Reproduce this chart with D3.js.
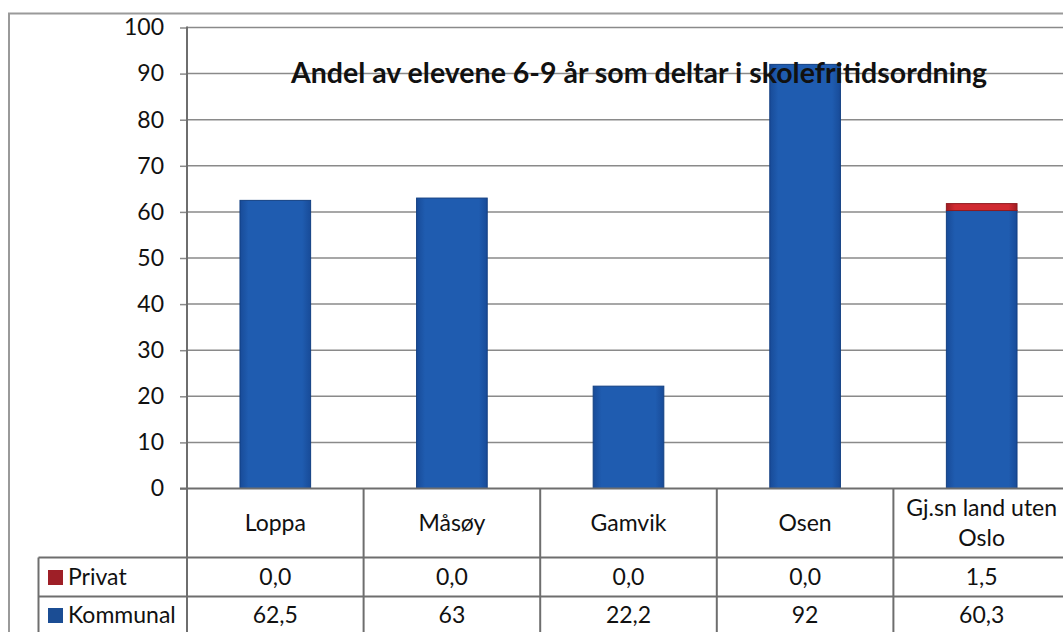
<!DOCTYPE html>
<html>
<head>
<meta charset="utf-8">
<script src="https://cdn.jsdelivr.net/npm/d3@7"></script>
<style>
  html, body { margin: 0; padding: 0; background: #fff; }
  svg { display: block; font-family: Lato, "Open Sans", sans-serif; }
</style>
</head>
<body>
<svg id="chart" width="1063" height="632"></svg>
<script>
// Share of pupils aged 6-9 attending after-school care (SFO)
const categories = ["Loppa", "Måsøy", "Gamvik", "Osen", "Gj.sn land uten Oslo"];
const kommunal = [62.5, 63, 22.2, 92, 60.3];
const privat = [0, 0, 0, 0, 1.5];
const seriesNames = ["Privat", "Kommunal"];
const yTicks = [0, 10, 20, 30, 40, 50, 60, 70, 80, 90, 100];
const title = "Andel av elevene 6-9 år som deltar i skolefritidsordning";

const svg = d3.select("#chart");
const W = 1063, H = 632;
const FONT = 'Lato, "Open Sans", sans-serif';

const plot = { left: 187, right: 1070, top: 27.5, bottom: 488.5 };
const rowY = { catTop: 488.5, catBottom: 557.5, privBottom: 596.5 };
const legendLeft = 38.5;

const y = d3.scaleLinear().domain([0, 100]).range([plot.bottom, plot.top]);
const cols = d3.scaleBand().domain(categories).range([plot.left, plot.right]).padding(0);
const bars = d3.scaleBand().domain(categories).range([plot.left, plot.right])
  .paddingInner(0.6).paddingOuter(0.3);

const keyColors = { Privat: "#9e1f27", Kommunal: "#1b4d94" };
const strokes = { Privat: "#8e1a1f", Kommunal: "#123f82" };

// gradients giving the bars a slightly rounded look
const defs = svg.append("defs");
function grad(id, edge, mid) {
  const g = defs.append("linearGradient").attr("id", id)
    .attr("x1", "0").attr("x2", "1").attr("y1", "0").attr("y2", "0");
  g.append("stop").attr("offset", "0%").attr("stop-color", edge);
  g.append("stop").attr("offset", "12%").attr("stop-color", mid);
  g.append("stop").attr("offset", "88%").attr("stop-color", mid);
  g.append("stop").attr("offset", "100%").attr("stop-color", edge);
}
grad("gKom", "#184b98", "#1f5cb0");
grad("gPriv", "#a01c22", "#d02a31");

// outer frame
svg.append("path")
  .attr("d", `M9,${H} V13.5 H${W}`)
  .attr("fill", "none").attr("stroke", "#9a9a9a").attr("stroke-width", 2);

// value axis with tick marks
const yAxis = d3.axisLeft(y).tickValues(yTicks).tickSize(7).tickPadding(16)
  .tickFormat(d3.format("d"));
const gy = svg.append("g").attr("transform", `translate(${plot.left},0)`).call(yAxis)
  .attr("font-family", FONT).attr("font-size", 23);
gy.select(".domain").remove();
gy.selectAll(".tick line").attr("stroke", "#8a8a8a").attr("stroke-width", 1.5);
gy.selectAll(".tick text").attr("fill", "#111");

// horizontal gridlines
svg.append("g").selectAll("line").data(yTicks.filter(d => d > 0)).join("line")
  .attr("x1", plot.left).attr("x2", W)
  .attr("y1", d => y(d)).attr("y2", d => y(d))
  .attr("stroke", "#8a8a8a").attr("stroke-width", 1.5);

// stacked bars
const stackData = categories.map((c, i) => ({ cat: c, Kommunal: kommunal[i], Privat: privat[i] }));
const stack = d3.stack().keys(["Kommunal", "Privat"])(stackData);
const gBars = svg.append("g");
stack.forEach(layer => {
  gBars.append("g").selectAll("rect").data(layer.filter(d => d[1] - d[0] > 0)).join("rect")
    .attr("x", d => bars(d.data.cat))
    .attr("width", bars.bandwidth())
    .attr("y", d => y(d[1]))
    .attr("height", d => y(d[0]) - y(d[1]))
    .attr("fill", layer.key === "Kommunal" ? "url(#gKom)" : "url(#gPriv)")
    .attr("stroke", strokes[layer.key]).attr("stroke-width", 1);
});

// title
svg.append("text")
  .attr("x", 639).attr("y", 83)
  .attr("text-anchor", "middle")
  .attr("font-size", 28.5).attr("font-weight", 700).attr("fill", "#111")
  .text(title);

// data table lines
const lineColor = "#6e6e6e";
const tbl = svg.append("g").attr("stroke", lineColor).attr("stroke-width", 2).attr("fill", "none");
tbl.append("line").attr("x1", plot.left).attr("x2", plot.left).attr("y1", plot.top - 1).attr("y2", H);
tbl.append("line").attr("x1", plot.left - 7).attr("x2", W).attr("y1", rowY.catTop).attr("y2", rowY.catTop);
tbl.append("line").attr("x1", legendLeft).attr("x2", W).attr("y1", rowY.catBottom).attr("y2", rowY.catBottom);
tbl.append("line").attr("x1", legendLeft).attr("x2", W).attr("y1", rowY.privBottom).attr("y2", rowY.privBottom);
tbl.append("line").attr("x1", legendLeft).attr("x2", legendLeft).attr("y1", rowY.catBottom).attr("y2", H);
tbl.selectAll(".div").data(categories.slice(1)).join("line")
  .attr("x1", d => cols(d)).attr("x2", d => cols(d))
  .attr("y1", rowY.catTop).attr("y2", H);

// category labels (wrapped onto two lines when long)
const catG = svg.append("g").attr("font-size", 23).attr("fill", "#111").attr("text-anchor", "middle");
categories.forEach(c => {
  const cx = cols(c) + cols.bandwidth() / 2;
  const cy = (rowY.catTop + rowY.catBottom) / 2;
  const lines = c.length > 12 ? ["Gj.sn land uten", "Oslo"] : [c];
  const t = catG.append("text").attr("x", cx);
  lines.forEach((ln, i) => {
    t.append("tspan").attr("x", cx)
      .attr("y", cy + 8 + (i - (lines.length - 1) / 2) * 30)
      .text(ln);
  });
});

// values in the table
const fmtPriv = v => d3.format(".1f")(v).replace(".", ",");
const fmtKom = v => d3.format("~r")(v).replace(".", ",");
const valG = svg.append("g").attr("font-size", 23).attr("fill", "#111").attr("text-anchor", "middle");
valG.selectAll(".p").data(categories).join("text")
  .attr("x", d => cols(d) + cols.bandwidth() / 2)
  .attr("y", (rowY.catBottom + rowY.privBottom) / 2 + 8)
  .text((d, i) => fmtPriv(privat[i]));
valG.selectAll(".k").data(categories).join("text")
  .attr("x", d => cols(d) + cols.bandwidth() / 2)
  .attr("y", 623)
  .text((d, i) => fmtKom(kommunal[i]));

// legend keys in the first column
const legY = { Privat: (rowY.catBottom + rowY.privBottom) / 2, Kommunal: 615 };
const legG = svg.append("g");
seriesNames.forEach(s => {
  legG.append("rect").attr("x", 48).attr("y", legY[s] - 7).attr("width", 15).attr("height", 15)
    .attr("fill", keyColors[s]);
  legG.append("text").attr("x", 68).attr("y", legY[s] + 8).attr("font-size", 23).attr("fill", "#111").text(s);
});
</script>
</body>
</html>
